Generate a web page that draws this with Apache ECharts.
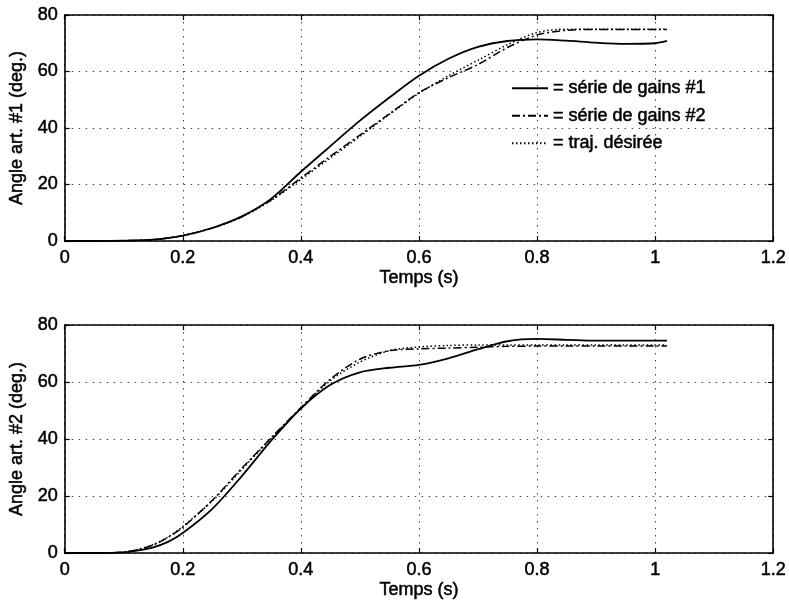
<!DOCTYPE html>
<html><head><meta charset="utf-8">
<script src="https://cdn.jsdelivr.net/npm/echarts@6/dist/echarts.min.js"></script>
<style>html,body{margin:0;padding:0;background:#fff}#c{width:789px;height:601px}</style>
</head><body><div id="c"></div>
<script>
// ---- data ----
const seriesNames = ['série de gains #1', 'série de gains #2', 'traj. désirée'];
const xAxisName = 'Temps (s)';
const yAxisNames = ['Angle art. #1 (deg.)', 'Angle art. #2 (deg.)'];

// top plot (joint 1)
const tTop = [0, 0.05, 0.1, 0.15, 0.2, 0.25, 0.3, 0.35, 0.4, 0.45, 0.5, 0.55, 0.6, 0.65, 0.7, 0.75, 0.8, 0.85, 0.9, 0.95, 1.0, 1.02];
const topGains1 = [0, 0, 0.1, 0.5, 1.9, 4.6, 8.7, 15.0, 24.5, 33.6, 42.6, 50.8, 58.5, 64.5, 68.7, 70.8, 71.4, 70.9, 70.2, 69.8, 70.0, 70.8];
const topGains2 = [0, 0, 0.1, 0.5, 1.9, 4.6, 8.6, 14.6, 22.3, 30.0, 37.5, 45.0, 52.5, 57.8, 62.5, 68.5, 72.9, 74.6, 74.9, 74.9, 74.9, 74.9];
const topDesired = [0, 0, 0.1, 0.5, 1.9, 4.6, 8.5, 14.4, 21.8, 29.4, 37.0, 44.8, 52.3, 58.5, 64.0, 69.5, 73.8, 75.0, 75.0, 75.0, 75.0, 75.0];

// bottom plot (joint 2)
const tBot = [0, 0.05, 0.1, 0.125, 0.15, 0.175, 0.2, 0.25, 0.3, 0.35, 0.4, 0.45, 0.5, 0.55, 0.6, 0.65, 0.7, 0.75, 0.8, 0.85, 0.9, 0.95, 1.0, 1.02];
const botGains1 = [0, 0, 0.2, 0.9, 2.0, 3.9, 7.0, 15.5, 27.0, 39.5, 50.7, 59.0, 63.4, 65.0, 66.0, 68.3, 71.5, 74.3, 75.1, 74.8, 74.5, 74.5, 74.5, 74.5];
const botGains2 = [0, 0, 0.3, 1.2, 2.8, 5.5, 9.0, 18.5, 29.7, 40.5, 51.0, 61.0, 68.0, 71.0, 71.6, 71.9, 72.2, 72.5, 72.6, 72.6, 72.6, 72.6, 72.6, 72.6];
const botDesired = [0, 0, 0.3, 1.3, 3.0, 5.6, 9.3, 18.3, 29.3, 40.3, 50.8, 60.5, 67.0, 71.0, 72.3, 72.8, 73.0, 73.0, 73.0, 73.0, 73.0, 73.0, 73.0, 73.0];

const xMin = 0, xMax = 1.2, xStep = 0.2;
const yMin = 0, yMax = 80, yStep = 20;

// ---- chart ----
const FONT = '"Liberation Sans", Arial, sans-serif';
const TXT = {fontFamily: FONT, fontSize: 18, color: '#000', textBorderColor: '#000', textBorderWidth: 0.5};
const pair = (t, v) => t.map((x, i) => [x, v[i]]);
const lineTypes = ['solid', [8, 3, 2, 3], [1.5, 2.5]];
const lineWidths = [1.8, 1.5, 1.5];

const grids = [
  {left: 63, right: 14, top: 15, height: 226},
  {left: 62, right: 15, top: 325, height: 228}
];

const xAxes = [], yAxes = [];
grids.forEach((g, gi) => {
  xAxes.push({
    type: 'value', gridIndex: gi, min: xMin, max: xMax, interval: xStep, position: 'bottom',
    name: xAxisName, nameLocation: 'middle', nameGap: 28,
    nameTextStyle: TXT,
    axisLine: {show: true, onZero: false, lineStyle: {color: '#000', width: 1.6}},
    axisTick: {show: true, inside: true, length: 5, lineStyle: {color: '#000', width: 1.2}},
    axisLabel: Object.assign({margin: 8}, TXT),
    splitLine: {show: true, lineStyle: {color: '#444', width: 1, type: [1.5, 5.5]}}
  });
  xAxes.push({
    type: 'value', gridIndex: gi, min: xMin, max: xMax, interval: xStep, position: 'top',
    axisLine: {show: true, onZero: false, lineStyle: {color: '#000', width: 1.6}},
    axisTick: {show: true, inside: true, length: 5, lineStyle: {color: '#000', width: 1.2}},
    axisLabel: {show: false}, splitLine: {show: false}
  });
  yAxes.push({
    type: 'value', gridIndex: gi, min: yMin, max: yMax, interval: yStep, position: 'left',
    name: yAxisNames[gi], nameLocation: 'middle', nameGap: 30, nameRotate: 90,
    nameTextStyle: TXT,
    axisLine: {show: true, onZero: false, lineStyle: {color: '#000', width: 1.6}},
    axisTick: {show: true, inside: true, length: 5, lineStyle: {color: '#000', width: 1.2}},
    axisLabel: Object.assign({margin: 7}, TXT),
    splitLine: {show: true, lineStyle: {color: '#444', width: 1, type: [1.5, 5.5]}}
  });
  yAxes.push({
    type: 'value', gridIndex: gi, min: yMin, max: yMax, interval: yStep, position: 'right',
    axisLine: {show: true, onZero: false, lineStyle: {color: '#000', width: 1.6}},
    axisTick: {show: true, inside: true, length: 5, lineStyle: {color: '#000', width: 1.2}},
    axisLabel: {show: false}, splitLine: {show: false}
  });
});

const topData = [topGains1, topGains2, topDesired];
const botData = [botGains1, botGains2, botDesired];
const series = [];
[[tTop, topData, 0], [tBot, botData, 1]].forEach(([t, arrs, gi]) => {
  arrs.forEach((v, i) => {
    series.push({
      type: 'line', name: seriesNames[i], xAxisIndex: gi * 2, yAxisIndex: gi * 2,
      data: pair(t, v), symbol: 'none', smooth: 0.3, silent: true,
      lineStyle: {color: '#000', width: lineWidths[i], type: lineTypes[i]},
      itemStyle: {color: '#000'}, z: 3 - i
    });
  });
});

const chart = echarts.init(document.getElementById('c'), null, {renderer: 'canvas'});
chart.setOption({
  animation: false,
  backgroundColor: '#fff',
  grid: grids,
  xAxis: xAxes,
  yAxis: yAxes,
  legend: {
    data: seriesNames, orient: 'vertical', left: 506, top: 74,
    itemWidth: 36, itemHeight: 16, itemGap: 9,
    itemStyle: {opacity: 0},
    formatter: n => '= ' + n,
    textStyle: TXT,
    selectedMode: false
  },
  series: series
});
</script>
</body></html>
